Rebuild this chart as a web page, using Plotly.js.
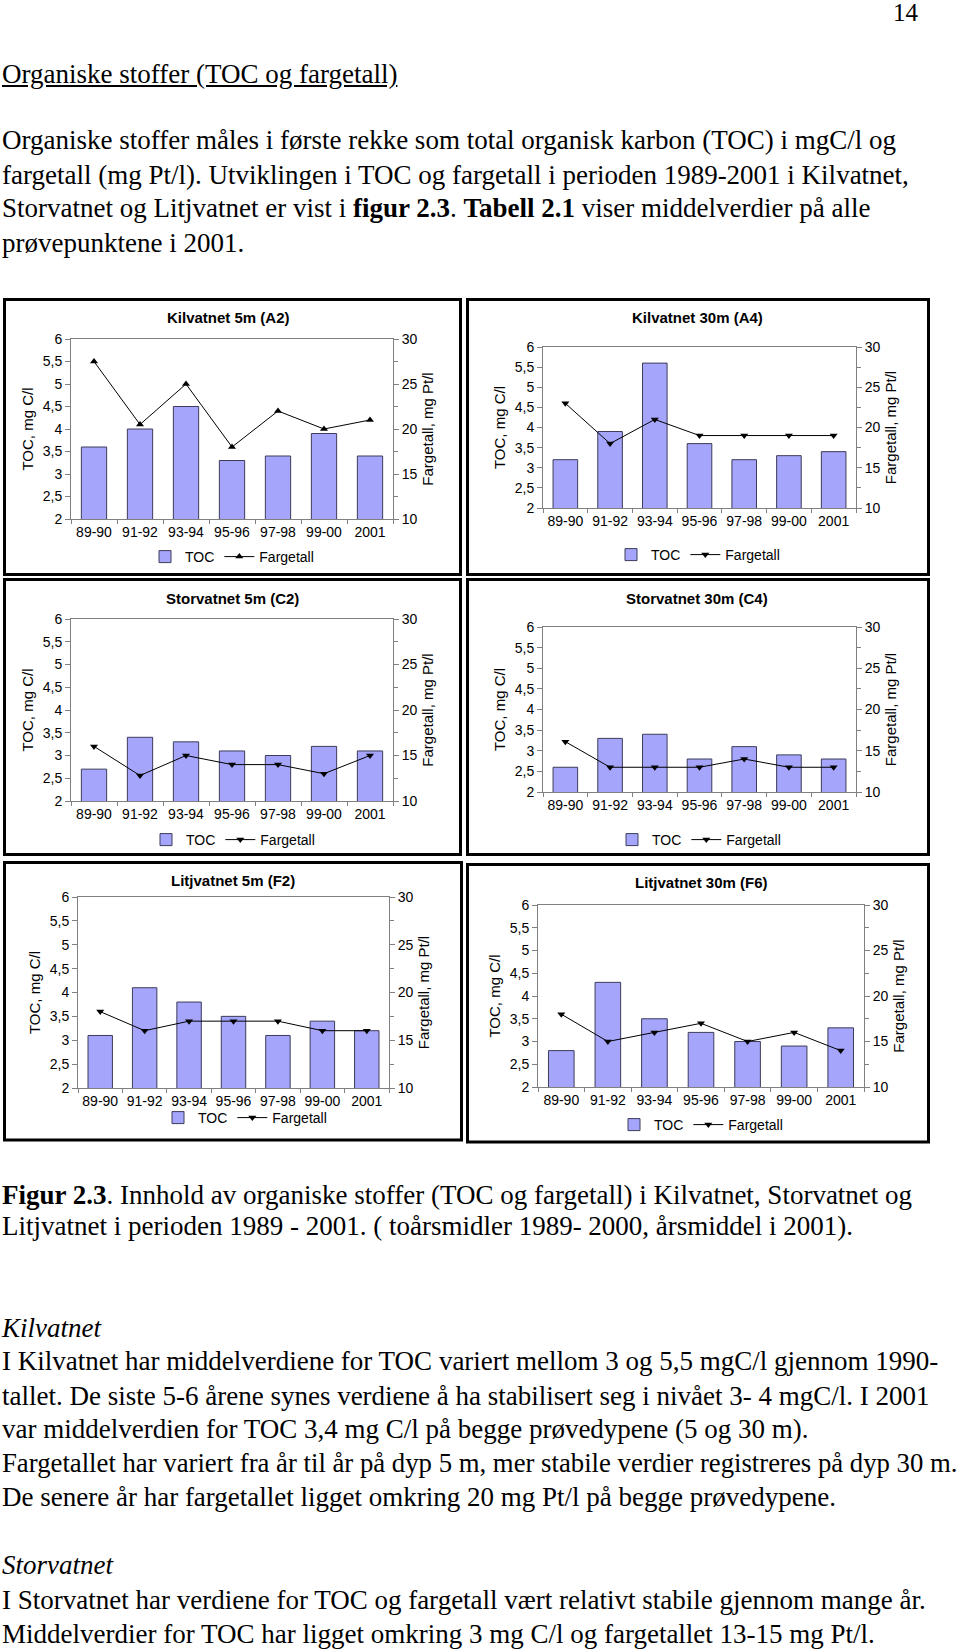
<!DOCTYPE html>
<html>
<head>
<meta charset="utf-8">
<script src="https://cdn.plot.ly/plotly-3.0.1.min.js"></script>
<style>
  html, body { margin:0; padding:0; background:#fff; }
  #page { position:relative; width:960px; height:1651px; overflow:hidden; }
  #chart { position:absolute; left:0; top:0; width:960px; height:1651px; }
  .ln { position:absolute; left:2px; white-space:nowrap; font-family:"Liberation Serif","Times New Roman",serif; font-size:27px; line-height:34px; height:34px; color:#000; z-index:2; }
  .sq { transform:scaleX(0.99); transform-origin:0 50%; }
</style>
</head>
<body>
<div id="page">
  <div id="chart"></div>
  <div class="ln" style="left:auto; right:42px; top:-4px; font-size:25px;">14</div>
  <div class="ln" style="top:57px;"><u>Organiske stoffer (TOC og fargetall)</u></div>
  <div class="ln" style="top:123px;">Organiske stoffer måles i første rekke som total organisk karbon (TOC) i mgC/l og</div>
  <div class="ln" style="top:158px;">fargetall (mg Pt/l). Utviklingen i TOC og fargetall i perioden 1989-2001 i Kilvatnet,</div>
  <div class="ln" style="top:191px;">Storvatnet og Litjvatnet er vist i <b>figur 2.3</b>. <b>Tabell 2.1</b> viser middelverdier på alle</div>
  <div class="ln" style="top:226px;">prøvepunktene i 2001.</div>

  <div class="ln" style="top:1178px;"><b>Figur 2.3</b>. Innhold av organiske stoffer (TOC og fargetall) i Kilvatnet, Storvatnet og</div>
  <div class="ln" style="top:1209px;">Litjvatnet i perioden 1989 - 2001. ( toårsmidler 1989- 2000, årsmiddel i 2001).</div>

  <div class="ln" style="top:1311px;"><i>Kilvatnet</i></div>
  <div class="ln" style="top:1344px;">I Kilvatnet har middelverdiene for TOC variert mellom 3 og 5,5 mgC/l gjennom 1990-</div>
  <div class="ln" style="top:1379px;">tallet. De siste 5-6 årene synes verdiene å ha stabilisert seg i nivået 3- 4 mgC/l. I 2001</div>
  <div class="ln" style="top:1412px;">var middelverdien for TOC 3,4 mg C/l på begge prøvedypene (5 og 30 m).</div>
  <div class="ln sq" style="top:1446px;">Fargetallet har variert fra år til år på dyp 5 m, mer stabile verdier registreres på dyp 30 m.</div>
  <div class="ln" style="top:1480px;">De senere år har fargetallet ligget omkring 20 mg Pt/l på begge prøvedypene.</div>

  <div class="ln" style="top:1548px;"><i>Storvatnet</i></div>
  <div class="ln" style="top:1583px;">I Storvatnet har verdiene for TOC og fargetall vært relativt stabile gjennom mange år.</div>
  <div class="ln" style="top:1617px;">Middelverdier for TOC har ligget omkring 3 mg C/l og fargetallet 13-15 mg Pt/l.</div>
</div>
<script>
// ---------- data ----------
const categories = ['89-90', '91-92', '93-94', '95-96', '97-98', '99-00', '2001'];
const panelTitles = ['Kilvatnet 5m (A2)', 'Kilvatnet 30m (A4)', 'Storvatnet 5m (C2)', 'Storvatnet 30m (C4)', 'Litjvatnet 5m (F2)', 'Litjvatnet 30m (F6)'];

const tocA2 = [3.6, 4.0, 4.5, 3.3, 3.4, 3.9, 3.4];
const fargA2 = [27.5, 20.5, 25, 18, 22, 20, 21];
const tocA4 = [3.2, 3.9, 5.6, 3.6, 3.2, 3.3, 3.4];
const fargA4 = [23, 18, 21, 19, 19, 19, 19];
const tocC2 = [2.7, 3.4, 3.3, 3.1, 3.0, 3.2, 3.1];
const fargC2 = [16, 12.8, 15, 14, 14, 13, 15];
const tocC4 = [2.6, 3.3, 3.4, 2.8, 3.1, 2.9, 2.8];
const fargC4 = [16.1, 13, 13, 13, 14, 13, 13];
const tocF2 = [3.1, 4.1, 3.8, 3.5, 3.1, 3.4, 3.2];
const fargF2 = [18, 16, 17, 17, 17, 16, 16];
const tocF6 = [2.8, 4.3, 3.5, 3.2, 3.0, 2.9, 3.3];
const fargF6 = [18, 15, 16, 17, 15, 16, 14];

const tocSeries = [tocA2, tocA4, tocC2, tocC4, tocF2, tocF6];
const fargSeries = [fargA2, fargA4, fargC2, fargC4, fargF2, fargF6];
const markerSymbols = ['triangle-up', 'triangle-down', 'triangle-down', 'triangle-down', 'triangle-down', 'triangle-down'];

const tocTickVals = [2, 2.5, 3, 3.5, 4, 4.5, 5, 5.5, 6];
const tocTickText = ['2', '2,5', '3', '3,5', '4', '4,5', '5', '5,5', '6'];
const fargTickVals = [10, 15, 20, 25, 30];
const fargTickText = ['10', '15', '20', '25', '30'];
const legendNames = ['TOC', 'Fargetall'];
const leftTitle = 'TOC, mg C/l';
const rightTitles = ['Fargetall, mg Pt/l', 'Fargetall, mg Pt/l', 'Fargetall, mg Pt/l', 'Fargetall, mg Pt/l', 'Fargetall, mg Pt/l', 'Fargetall, mg Pt/l'];

// ---------- geometry (page pixels) ----------
const W = 960, H = 1651;
const fx = v => v / W;
const fy = v => 1 - v / H;
const plotBoxes = [
  {x0: 71, x1: 393, y0: 339, y1: 519},
  {x0: 543, x1: 856, y0: 347, y1: 508},
  {x0: 71, x1: 393, y0: 619, y1: 801},
  {x0: 543, x1: 856, y0: 627, y1: 792},
  {x0: 78, x1: 389, y0: 897, y1: 1088},
  {x0: 538, x1: 864, y0: 905, y1: 1087}
];
const titlePos = [[228, 318], [697, 318], [232, 598], [697, 598], [233, 880], [701, 882]];
const legendPos = [[232, 557], [698, 555], [233, 840], [699, 840], [245, 1118], [701, 1125]];
const frames = [
  [4.5, 299.5, 460.5, 574.5], [467.5, 299.5, 928.5, 574.5],
  [4.5, 579.5, 460.5, 854.5], [467.5, 579.5, 928.5, 854.5],
  [4.5, 862.5, 461.5, 1140], [467.5, 864.5, 928.5, 1142]
];

const FONT = 'Liberation Sans, Arial, sans-serif';
const AX = '#808080';
const traces = [];
const layout = {
  width: W, height: H,
  margin: {l: 0, r: 0, t: 0, b: 0},
  paper_bgcolor: 'rgba(0,0,0,0)',
  plot_bgcolor: 'rgba(0,0,0,0)',
  font: {family: FONT, size: 14, color: '#000'},
  bargap: 0.45,
  annotations: [],
  shapes: [],
  separators: ', '
};

for (let i = 0; i < 6; i++) {
  const n = i + 1;
  const xk = n === 1 ? 'xaxis' : 'xaxis' + n;
  const xr = n === 1 ? 'x' : 'x' + n;
  const L = 2 * i + 1, R = 2 * i + 2;
  const ylk = L === 1 ? 'yaxis' : 'yaxis' + L;
  const ylr = L === 1 ? 'y' : 'y' + L;
  const yrk = 'yaxis' + R;
  const yrr = 'y' + R;
  const lg = n === 1 ? 'legend' : 'legend' + n;
  const b = plotBoxes[i];

  traces.push({
    type: 'bar', x: categories, y: tocSeries[i], xaxis: xr, yaxis: ylr,
    name: legendNames[0], legend: lg,
    marker: {color: '#a5a5fb', line: {color: '#3c3c5a', width: 1}},
    hoverinfo: 'skip'
  });
  traces.push({
    type: 'scatter', mode: 'lines+markers', x: categories, y: fargSeries[i], xaxis: xr, yaxis: yrr,
    name: legendNames[1], legend: lg,
    line: {color: '#000', width: 1},
    marker: {symbol: markerSymbols[i], size: 7, color: '#000'},
    hoverinfo: 'skip'
  });

  layout[xk] = {
    domain: [fx(b.x0), fx(b.x1)], anchor: ylr, type: 'category',
    showline: true, linecolor: AX, linewidth: 1, mirror: true,
    ticks: 'outside', tickson: 'boundaries', ticklen: 4, tickcolor: AX,
    tickangle: 0,
    showgrid: false, zeroline: false, fixedrange: true,
    tickfont: {size: 14, color: '#000', family: FONT}
  };
  layout[ylk] = {
    domain: [fy(b.y1), fy(b.y0)], anchor: xr, range: [2, 6],
    tickvals: tocTickVals, ticktext: tocTickText,
    showline: true, linecolor: AX, linewidth: 1,
    ticks: 'outside', ticklen: 5, tickcolor: AX,
    showgrid: false, zeroline: false, fixedrange: true,
    tickfont: {size: 14, color: '#000', family: FONT},
    title: {text: leftTitle, font: {size: 15, color: '#000', family: FONT}, standoff: 5}
  };
  layout[yrk] = {
    overlaying: ylr, anchor: xr, side: 'right', range: [10, 30],
    tickvals: fargTickVals, ticktext: fargTickText,
    showline: true, linecolor: AX, linewidth: 1,
    ticks: 'outside', ticklen: 5, tickcolor: AX,
    minor: {dtick: 2.5, tick0: 10, ticks: 'outside', ticklen: 4, tickcolor: AX},
    showgrid: false, zeroline: false, fixedrange: true,
    tickfont: {size: 14, color: '#000', family: FONT},
    title: {text: rightTitles[i], font: {size: 15, color: '#000', family: FONT}, standoff: 5}
  };
  layout[lg] = {
    orientation: 'h', x: fx(legendPos[i][0]), xanchor: 'center',
    y: fy(legendPos[i][1]), yanchor: 'middle',
    font: {size: 14, color: '#000', family: FONT},
    bgcolor: 'rgba(0,0,0,0)', traceorder: 'normal', itemwidth: 30
  };
  layout.annotations.push({
    text: '<b>' + panelTitles[i] + '</b>', xref: 'paper', yref: 'paper',
    x: fx(titlePos[i][0]), y: fy(titlePos[i][1]), xanchor: 'center', yanchor: 'middle',
    showarrow: false, font: {size: 15, color: '#000', family: FONT}
  });
  const f = frames[i];
  layout.shapes.push({
    type: 'rect', xref: 'paper', yref: 'paper',
    x0: fx(f[0]), x1: fx(f[2]), y0: fy(f[3]), y1: fy(f[1]),
    line: {color: '#000', width: 3}, fillcolor: 'rgba(0,0,0,0)', layer: 'below'
  });
}

Plotly.newPlot('chart', traces, layout, {displayModeBar: false, staticPlot: true});
</script>
</body>
</html>
